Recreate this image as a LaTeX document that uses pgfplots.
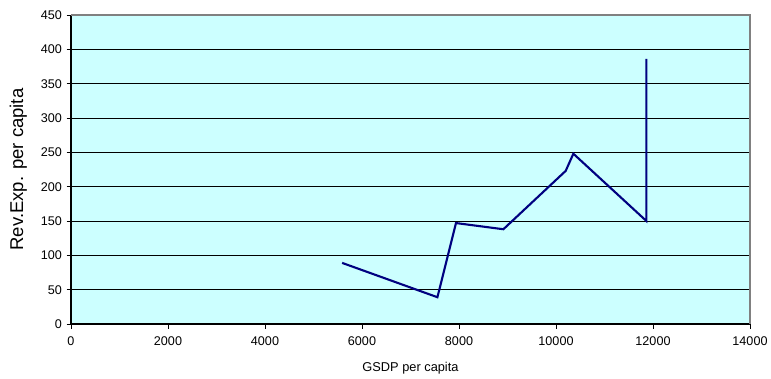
\documentclass[border=0pt]{standalone}
\usepackage{fontspec}
\setmainfont{Liberation Sans}
\usepackage{pgfplots}
\pgfplotsset{compat=1.18}
\definecolor{plotbg}{HTML}{CCFFFF}
\definecolor{seriesnavy}{HTML}{000080}
\definecolor{framegray}{HTML}{808080}
\begin{document}
\begin{tikzpicture}
\useasboundingbox (0pt,0pt) rectangle (771pt,378pt);
\begin{axis}[
  at={(71pt,54pt)}, anchor=south west,
  scale only axis, width=679pt, height=309pt,
  xmin=0, xmax=14000, ymin=0, ymax=450,
  xtick={0,2000,...,14000}, ytick={0,50,...,450},
  axis x line*=bottom, axis y line*=left,
  axis line style={black, line width=1.1pt, -},
  tick style={black, line width=0.8pt},
  tick align=outside, major tick length=4.5pt,
  ymajorgrids, grid style={black, line width=0.7pt},
  axis background/.style={fill=plotbg},
  scaled x ticks=false,
  /pgf/number format/assume math mode=true,
  /pgf/number format/1000 sep={},
  ticklabel style={font=\fontsize{12.6}{14}\selectfont},
  xticklabel style={yshift=-5pt},
  yticklabel style={xshift=-1pt},
  xlabel={GSDP per capita},
  ylabel={Rev.Exp. per capita},
  xlabel style={font=\fontsize{12.8}{14}\selectfont, yshift=-9pt},
  ylabel style={font=\fontsize{18.5}{20}\selectfont, yshift=7pt},
]
\addplot[seriesnavy, line width=2.1pt, line join=miter] coordinates {
  (5590,89) (7555,39) (7938,147) (8915,138) (10200,223) (10358,248) (11864,150) (11864,386)
};
\end{axis}
\draw[framegray, line width=2pt] (71pt,363pt) -- (750pt,363pt) -- (750pt,54pt);
\end{tikzpicture}
\end{document}
